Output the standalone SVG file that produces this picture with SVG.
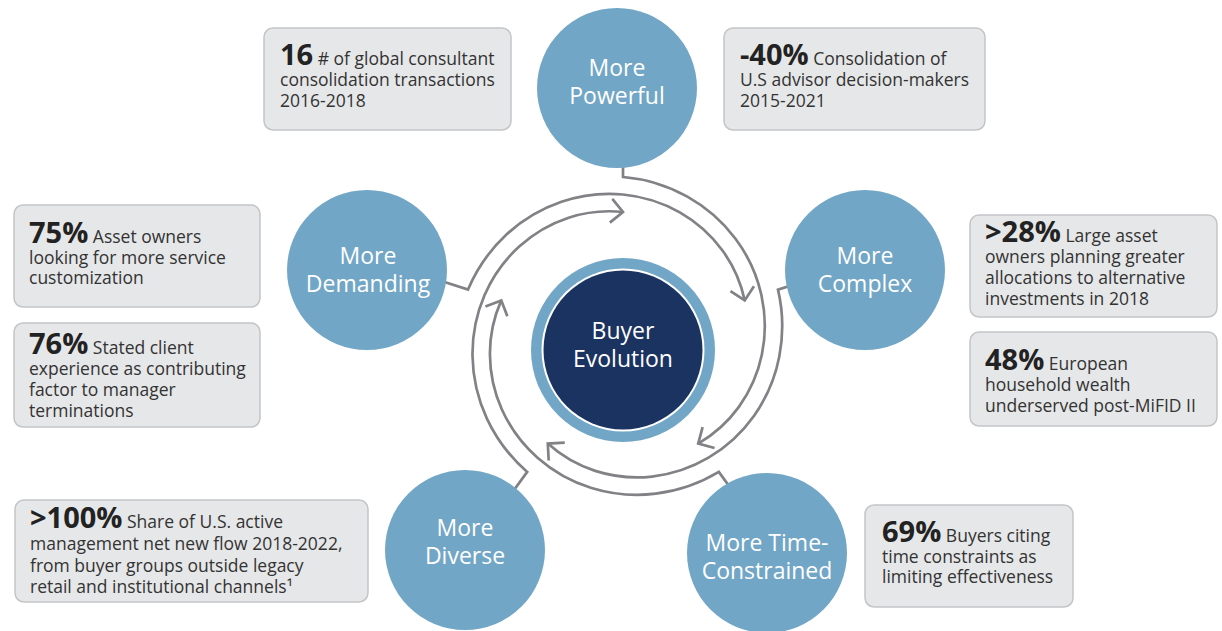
<svg xmlns="http://www.w3.org/2000/svg" width="1222" height="631" viewBox="0 0 1222 631">
<style>
.box{fill:#e6e7e8;stroke:#c4c5c7;stroke-width:1.5}
.t{font-family:"Open Sans","Liberation Sans",sans-serif;font-size:17.5px;fill:#333}
.n{font-weight:bold;font-size:29px;fill:#222}
.node{fill:#72a6c6}
.ct{font-family:"Open Sans","Liberation Sans",sans-serif;font-size:23px;fill:#fff;text-anchor:middle}
.arc{fill:none;stroke:#828286;stroke-width:2.7;stroke-linejoin:miter}
</style>
<defs>
<marker id="ah" markerUnits="userSpaceOnUse" markerWidth="30" markerHeight="30" refX="0" refY="0" viewBox="-15 -15 30 30" orient="auto" overflow="visible">
<path d="M-12,-12 L0,0 L-12,12" fill="none" stroke="#828286" stroke-width="2.7"/>
</marker>
</defs>
<rect width="1222" height="631" fill="#fff"/>
<g id="connectors">
<path class="arc" marker-end="url(#ah)" d="M623,145 L623,177 A160.1,160.1 0 0 1 686.9,196.4 A154.25,154.25 0 0 1 735.5,238.7 A148.4,148.4 0 0 1 761.4,295 A142.6,142.6 0 0 1 761.9,354.6 A136.75,136.75 0 0 1 738.9,406.9 A130.9,130.9 0 0 1 698.2,443.6"/>
<path class="arc" marker-end="url(#ah)" d="M808.5,279.7 L778,289.6 A160.1,160.1 0 0 1 779.3,356.4 A154.25,154.25 0 0 1 754.1,415.7 A148.4,148.4 0 0 1 708.5,457.7 A142.6,142.6 0 0 1 652,476.6 A136.75,136.75 0 0 1 595.2,470.9 A130.9,130.9 0 0 1 547.8,443.6"/>
<path class="arc" marker-end="url(#ah)" d="M737.6,497.8 L718.8,471.9 A160.1,160.1 0 0 1 655.7,493.7 A154.25,154.25 0 0 1 591.5,488 A148.4,148.4 0 0 1 537.5,457.7 A142.6,142.6 0 0 1 502,409.8 A136.75,136.75 0 0 1 489.9,354 A130.9,130.9 0 0 1 501.3,300.4"/>
<path class="arc" marker-end="url(#ah)" d="M508.4,497.8 L527.2,471.9 A160.1,160.1 0 0 1 486.9,418.6 A154.25,154.25 0 0 1 472.5,355.8 A148.4,148.4 0 0 1 484.6,295 A142.6,142.6 0 0 1 519.2,246.5 A136.75,136.75 0 0 1 568.6,217.7 A130.9,130.9 0 0 1 623,212"/>
<path class="arc" marker-end="url(#ah)" d="M437.5,279.7 L468,289.6 A160.1,160.1 0 0 1 506.2,234.8 A154.25,154.25 0 0 1 561.5,201.8 A148.4,148.4 0 0 1 623,194.5 A142.6,142.6 0 0 1 679.8,212.4 A136.75,136.75 0 0 1 722.5,250.5 A130.9,130.9 0 0 1 744.7,300.4"/>
</g>
<g id="center">
<circle cx="623" cy="350" r="92" fill="#72a6c6"/>
<circle cx="623" cy="350" r="81.5" fill="#fff"/>
<circle cx="623" cy="350" r="79.5" fill="#1b3361"/>
<text class="ct" x="623" y="339" font-size="22">Buyer</text>
<text class="ct" x="623" y="367" font-size="22">Evolution</text>
</g>
<g id="n-powerful">
<circle class="node" cx="617" cy="88" r="80"/>
<text class="ct" x="617" y="76">More</text>
<text class="ct" x="617" y="104">Powerful</text>
</g>
<g id="n-demanding">
<circle class="node" cx="367" cy="270" r="80"/>
<text class="ct" x="368" y="264">More</text>
<text class="ct" x="368" y="292">Demanding</text>
</g>
<g id="n-complex">
<circle class="node" cx="865" cy="270" r="80"/>
<text class="ct" x="865" y="264">More</text>
<text class="ct" x="865" y="292">Complex</text>
</g>
<g id="n-diverse">
<circle class="node" cx="465" cy="550" r="80"/>
<text class="ct" x="465" y="536">More</text>
<text class="ct" x="465" y="564">Diverse</text>
</g>
<g id="n-time">
<circle class="node" cx="767" cy="553" r="80"/>
<text class="ct" x="767" y="551">More Time-</text>
<text class="ct" x="767" y="579">Constrained</text>
</g>
<g id="b-16">
<rect class="box" x="264" y="28" width="247" height="102" rx="9"/>
<text class="t" x="280" y="65"><tspan class="n">16</tspan> # of global consultant</text>
<text class="t" x="280" y="86">consolidation transactions</text>
<text class="t" x="280" y="107">2016-2018</text>
</g>
<g id="b-40">
<rect class="box" x="724" y="28" width="261" height="102" rx="9"/>
<text class="t" x="740" y="65"><tspan class="n">-40%</tspan> Consolidation of</text>
<text class="t" x="740" y="86">U.S advisor decision-makers</text>
<text class="t" x="740" y="107">2015-2021</text>
</g>
<g id="b-75">
<rect class="box" x="14" y="205" width="246" height="102" rx="9"/>
<text class="t" x="29" y="243"><tspan class="n">75%</tspan> Asset owners</text>
<text class="t" x="29" y="264">looking for more service</text>
<text class="t" x="29" y="284">customization</text>
</g>
<g id="b-76">
<rect class="box" x="14" y="323" width="246" height="104" rx="9"/>
<text class="t" x="29" y="354"><tspan class="n">76%</tspan> Stated client</text>
<text class="t" x="29" y="375">experience as contributing</text>
<text class="t" x="29" y="396">factor to manager</text>
<text class="t" x="29" y="417">terminations</text>
</g>
<g id="b-28">
<rect class="box" x="970" y="215" width="247" height="102" rx="9"/>
<text class="t" x="985" y="242"><tspan class="n">&gt;28%</tspan> Large asset</text>
<text class="t" x="985" y="263">owners planning greater</text>
<text class="t" x="985" y="284">allocations to alternative</text>
<text class="t" x="985" y="305">investments in 2018</text>
</g>
<g id="b-48">
<rect class="box" x="970" y="332" width="247" height="94" rx="9"/>
<text class="t" x="985" y="370"><tspan class="n">48%</tspan> European</text>
<text class="t" x="985" y="391">household wealth</text>
<text class="t" x="985" y="412">underserved post-MiFID II</text>
</g>
<g id="b-100">
<rect class="box" x="15" y="500" width="353" height="102" rx="9"/>
<text class="t" x="30" y="528"><tspan class="n">&gt;100%</tspan> Share of U.S. active</text>
<text class="t" x="30" y="550">management net new flow 2018-2022,</text>
<text class="t" x="30" y="572">from buyer groups outside legacy</text>
<text class="t" x="30" y="593">retail and institutional channels¹</text>
</g>
<g id="b-69">
<rect class="box" x="865" y="505" width="208" height="102" rx="9"/>
<text class="t" x="882" y="542"><tspan class="n">69%</tspan> Buyers citing</text>
<text class="t" x="882" y="563">time constraints as</text>
<text class="t" x="882" y="583">limiting effectiveness</text>
</g>
</svg>
